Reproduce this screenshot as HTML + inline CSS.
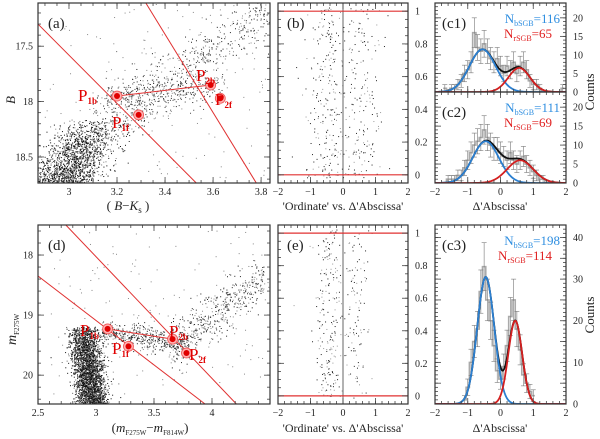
<!DOCTYPE html>
<html><head><meta charset="utf-8"><style>
html,body{margin:0;padding:0;background:#fff;}
svg, svg text{font-family:"Liberation Serif","DejaVu Serif",serif;}
svg{display:block;}
</style></head><body>
<svg id="fig" width="600" height="439" viewBox="0 0 600 439" font-family="Liberation Serif, serif" xmlns="http://www.w3.org/2000/svg"></svg>
<script>
// ---- data ----
const binCentersC1 = [-1.7,-1.6,-1.5,-1.4,-1.3,-1.2,-1.1,-1.0,-0.9,-0.8,-0.7,-0.6,-0.5,-0.4,-0.3,-0.2,-0.1,0.0,0.1,0.2,0.3,0.4,0.5,0.6,0.7,0.8,0.9,1.0,1.1,1.2,1.3,1.4,1.5,1.6,1.7,1.8,1.9];
const countsC1 = [1,0,1,1,2,3,5,6,8,16,12,11,13,11,9,8,9,7,5,7,6,8,5,7,8,6,3,2,2,1,0,0,0,0,0,0,1];
const countsC2 = [0,1,1,1,2,2,4,6,8,10,11,12,14,12,10,9,9,8,7,6,8,6,5,6,7,5,4,3,2,1,1,0,0,0,0,0,0];
const binCentersC3 = [-1.1,-1.0,-0.9,-0.8,-0.7,-0.6,-0.5,-0.4,-0.3,-0.2,-0.1,0.0,0.1,0.2,0.3,0.4,0.5,0.6,0.7,0.8,0.9,1.0];
const countsC3 = [1,4,10,15,18,27,33,25,20,14,8,6,9,14,21,25,18,13,7,5,3,2];
const fitBlue = [[11.5,-0.55,0.40],[11.0,-0.45,0.40],[30.5,-0.45,0.26]];
const fitRed  = [[6.5,0.57,0.33],[6.0,0.60,0.40],[20.0,0.45,0.21]];
const nLabelsBlue = ["116","111","198"];
const nLabelsRed = ["65","69","114"];
const ptsA = {names:["1b","1f","2b","2f"], x:[3.2,3.29,3.59,3.63], y:[17.95,18.12,17.85,17.97]};
const ptsD = {names:["1b","1f","2b","2f"], x:[3.10,3.28,3.66,3.78], y:[19.23,19.52,19.40,19.63]};

const NS="http://www.w3.org/2000/svg";
const svg=document.getElementById('fig');
const FF='Liberation Serif, serif';
function el(tag,attrs,parent){const e=document.createElementNS(NS,tag);for(const k in attrs)e.setAttribute(k,attrs[k]);if(tag==='text')e.setAttribute('font-family',FF);(parent||svg).appendChild(e);return e;}
let seed=12345;function rnd(){seed=(seed*1103515245+12345)%2147483648;return seed/2147483648;}
function gauss(){let u=rnd()||1e-9,v=rnd();return Math.sqrt(-2*Math.log(u))*Math.cos(2*Math.PI*v);}
function scale(d0,d1,p0,p1){return v=>p0+(v-d0)*(p1-p0)/(d1-d0);}

function axes(name,x0,x1,y0,y1,xd,yd,o){
  const g=el('g',{});
  
  
  const sx=scale(xd[0],xd[1],x0,x1), sy=scale(yd[0],yd[1],y0,y1);
  const cl='clip-'+name;
  const cp=el('clipPath',{id:cl},g);el('rect',{x:x0,y:y0,width:x1-x0,height:y1-y0},cp);
  const body=el('g',{'clip-path':'url(#'+cl+')'},g);
  const ax=el('g',{},g);
  function ticks(lo,hi,step,len,isX){
    const n=Math.round((hi-lo)/step);
    for(let i=0;i<=n;i++){const v=lo+i*step;
      if(isX){const p=sx(v);if(p<x0-0.5||p>x1+0.5)continue;
        el('line',{x1:p,x2:p,y1:y1,y2:y1-len,stroke:'#444','stroke-width':0.8},ax);
        el('line',{x1:p,x2:p,y1:y0,y2:y0+len,stroke:'#444','stroke-width':0.8},ax);}
      else{const p=sy(v);if(p<y0-0.5||p>y1+0.5)continue;
        el('line',{y1:p,y2:p,x1:x0,x2:x0+len,stroke:'#444','stroke-width':0.8},ax);
        el('line',{y1:p,y2:p,x1:x1,x2:x1-len,stroke:'#444','stroke-width':0.8},ax);}
    }
  }
  ticks(o.xmin[0],o.xmin[1],o.xmin[2],3,true);
  ticks(o.xmaj[0],o.xmaj[1],o.xmaj[2],6,true);
  ticks(o.ymin[0],o.ymin[1],o.ymin[2],3,false);
  ticks(o.ymaj[0],o.ymaj[1],o.ymaj[2],6,false);
  if(o.xlab){o.xlab.forEach(v=>{const t=el('text',{x:sx(v),y:y1+12,'font-size':10,'text-anchor':'middle',fill:'#222'},ax);t.textContent=(v<0?'−'+(-v):String(v));});}
  if(o.ylab){o.ylab.forEach(v=>{const right=o.yright;const t=el('text',{x:right?x1+7:x0-5,y:sy(v)+3.5,'font-size':10,'text-anchor':right?'start':'end',fill:'#222'},ax);t.textContent=String(v);});}
  el('rect',{x:x0,y:y0,width:x1-x0,height:y1-y0,fill:'none',stroke:'#333','stroke-width':1.2},ax);
  return {g,body,sx,sy,ax};
}
function dot(parent,x,y,c){el('rect',{x:x-0.5,y:y-0.5,width:1,height:1,fill:c},parent);}
function label(txt,x,y,size,parent){const t=el('text',{x:x,y:y,'font-size':size||14,fill:'#222'},parent||svg);t.textContent=txt;return t;}

// ---------- panel a ----------
const A=axes('cmd-panel-a',38,270,3,183,[2.871,3.837],[17.11,18.735],{xmaj:[3,3.8,0.2],xmin:[2.9,3.8,0.05],ymaj:[17.5,18.5,0.5],ymin:[17.2,18.7,0.1],xlab:[3,3.2,3.4,3.6,3.8],ylab:[17.5,18,18.5]});
const scA=el('g',{},A.body);
for(let i=0;i<2000;i++){const m=18.15+Math.pow(rnd(),0.6)*0.7;const x=2.97+(18.75-m)*0.22+gauss()*0.07;dot(scA,A.sx(x),A.sy(m),rnd()<0.3?'#777':'#111');}
for(let i=0;i<750;i++){const x=3.1+rnd()*0.78;const m=18.3-(x-3.1)*1.5+gauss()*0.14;dot(scA,A.sx(x),A.sy(m),rnd()<0.4?'#888':'#222');}
for(let i=0;i<250;i++){const x=3.15+rnd()*0.5;const m=17.97-(x-3.15)*0.2+gauss()*0.08;dot(scA,A.sx(x),A.sy(m),'#444');}
for(let i=0;i<150;i++){dot(scA,A.sx(2.9+rnd()*0.95),A.sy(17.1+rnd()*1.6),'#888');}
const linesA=[[2.871,17.30,3.53,18.735],[3.32,17.11,3.78,18.735]];
function redLines(P,lines,pts,name){
  const g=el('g',{},P.body);
  lines.forEach(l=>el('line',{x1:P.sx(l[0]),y1:P.sy(l[1]),x2:P.sx(l[2]),y2:P.sy(l[3]),stroke:'#e03030','stroke-width':1},g));
  el('line',{x1:P.sx(pts.x[0]),y1:P.sy(pts.y[0]),x2:P.sx(pts.x[2]),y2:P.sy(pts.y[2]),stroke:'#e03030','stroke-width':1},g);
  for(let i=0;i<4;i++){const cx=P.sx(pts.x[i]),cy=P.sy(pts.y[i]);
    const c=el('circle',{cx:cx,cy:cy,r:5,fill:'#ffb0b0',stroke:'#e55','stroke-width':0.8},P.g);
    
    el('circle',{cx:cx,cy:cy,r:3,fill:'#e00000'},P.g);}
}
redLines(A,linesA,ptsA,'selection-lines-a');
function plabel(x,y,sub){const t=el('text',{x:x,y:y,'font-size':17,fill:'#e00000'});
  t.textContent='P';const s=el('tspan',{'font-size':9,dy:3,'font-weight':'bold'},t);s.textContent=sub;}
plabel(78,101,'1b');plabel(112,128,'1f');plabel(196,81,'2b');plabel(215,105,'2f');
label('(a)',48,28,15);
let t=el('text',{x:128,y:210,'font-size':13,'text-anchor':'middle',fill:'#222'});t.innerHTML='( <tspan font-style="italic">B</tspan>−<tspan font-style="italic">K</tspan><tspan font-size="9" dy="3">s</tspan><tspan dy="-3"> )</tspan>';

t=el('text',{x:0,y:0,'font-size':13,'font-style':'italic',fill:'#222',transform:'translate(15,100) rotate(-90)','text-anchor':'middle'});t.textContent='B';


// ---------- panel b/e ----------
const B=axes('ordinate-panel-b',278,408,3,183,[-2,2],[1.05,-0.05],{xmaj:[-2,2,1],xmin:[-2,2,0.2],ymaj:[0,1,0.2],ymin:[0,1,0.05],xlab:[-2,-1,0,1,2],ylab:[0,0.2,0.4,0.6,0.8,1],yright:true});
function fillOrd(P,y0,y1,n,mu1,s1,mu2,s2,frac,name){
  const g=el('g',{},P.body);
  for(let i=0;i<n;i++){const b=rnd()<frac;const x=b?mu1+gauss()*s1:mu2+gauss()*s2;const y=rnd()*1.04-0.02;dot(g,P.sx(x),P.sy(y),rnd()<0.4?'#999':'#222');}
  el('line',{x1:P.sx(0),x2:P.sx(0),y1:y0,y2:y1,stroke:'#555','stroke-width':0.9},P.body);
  el('line',{x1:278,x2:408,y1:P.sy(0),y2:P.sy(0),stroke:'#e03030','stroke-width':1.2},P.body);
  el('line',{x1:278,x2:408,y1:P.sy(1),y2:P.sy(1),stroke:'#e03030','stroke-width':1.2},P.body);
}
fillOrd(B,3,183,420,-0.5,0.35,0.55,0.32,0.62,'stars-b');
label('(b)',287,28,15);
const E=axes('ordinate-panel-e',278,408,225,404,[-2,2],[1.05,-0.05],{xmaj:[-2,2,1],xmin:[-2,2,0.2],ymaj:[0,1,0.2],ymin:[0,1,0.05],xlab:[-2,-1,0,1,2],ylab:[0,0.2,0.4,0.6,0.8,1],yright:true});
fillOrd(E,225,404,310,-0.45,0.22,0.45,0.18,0.63,'stars-e');
label('(e)',287,250,15);
[[343,210],[343,432]].forEach((p,i)=>{const tt=el('text',{x:p[0],y:p[1],'font-size':12,'text-anchor':'middle',fill:'#222'});tt.textContent="'Ordinate' vs. Δ'Abscissa'";});

// ---------- histograms ----------
function gaussv(p,x){return p[0]*Math.exp(-0.5*Math.pow((x-p[1])/p[2],2));}
function hist(name,y0,y1,ymax,centers,counts,bw,fb,fr,nb,nr,lab,showX,majStep){
  const P=axes(name,435,566,y0,y1,[-2,2],[ymax,0],{xmaj:[-2,2,1],xmin:[-2,2,0.2],ymaj:[0,ymax,majStep],ymin:[0,ymax,majStep/5],xlab:showX?[-2,-1,0,1,2]:null,ylab:(function(){const a=[];for(let v=0;v<=ymax-0.01;v+=majStep*(ymax>30?2:1))a.push(v);return a;})(),yright:true});
  const g=el('g',{},P.body);
  let d='';
  centers.forEach((c,i)=>{const xl=P.sx(c-bw/2),xr=P.sx(c+bw/2),y=P.sy(counts[i]);d+=(i?'L':'M')+xl+','+y+'L'+xr+','+y;});
  el('path',{d:d,fill:'none',stroke:'#aaa','stroke-width':1.6},g);
  const eg=el('g',{},P.body);
  centers.forEach((c,i)=>{if(counts[i]<=0)return;const e=Math.sqrt(counts[i]);const x=P.sx(c);const ya=P.sy(counts[i]+e),yb=P.sy(Math.max(0,counts[i]-e));
    el('line',{x1:x,x2:x,y1:ya,y2:yb,stroke:'#777','stroke-width':0.6},eg);
    el('line',{x1:x-2.5,x2:x+2.5,y1:ya,y2:ya,stroke:'#777','stroke-width':0.6},eg);
    el('line',{x1:x-2.5,x2:x+2.5,y1:yb,y2:yb,stroke:'#777','stroke-width':0.6},eg);});
  function curve(f,col,nm){let d='';for(let i=0;i<=200;i++){const x=-2+i*0.02;d+=(i?'L':'M')+P.sx(x).toFixed(2)+','+P.sy(f(x)).toFixed(2);}
    const p=el('path',{d:d,fill:'none',stroke:col,'stroke-width':1.8},P.body);}
  curve(x=>gaussv(fb,x)+gaussv(fr,x),'#111','fit-total-'+name);
  curve(x=>gaussv(fb,x),'#2b7fd0','fit-bsgb-'+name);
  curve(x=>gaussv(fr,x),'#d41f1f','fit-rsgb-'+name);
  label(lab,442,y0+25,15);
  let tt=el('text',{x:560,y:y0+20,'font-size':13,'text-anchor':'end',fill:'#2e8ee0'});tt.innerHTML='N<tspan font-size="8" dy="3">bSGB</tspan><tspan dy="-3">='+nb+'</tspan>';
  
  tt=el('text',{x:552,y:y0+35,'font-size':13,'text-anchor':'end',fill:'#e02020'});tt.innerHTML='N<tspan font-size="8" dy="3">rSGB</tspan><tspan dy="-3">='+nr+'</tspan>';
  
  return P;
}
hist('hist-c1',3,92,24,binCentersC1,countsC1,0.1,fitBlue[0],fitRed[0],nLabelsBlue[0],nLabelsRed[0],'(c1)',false,5);
hist('hist-c2',92,183,24,binCentersC1,countsC2,0.1,fitBlue[1],fitRed[1],nLabelsBlue[1],nLabelsRed[1],'(c2)',true,5);
hist('hist-c3',225,404,43,binCentersC3,countsC3,0.1,fitBlue[2],fitRed[2],nLabelsBlue[2],nLabelsRed[2],'(c3)',true,5);
[[500,210],[500,432]].forEach((p,i)=>{const tt=el('text',{x:p[0],y:p[1],'font-size':12,'text-anchor':'middle',fill:'#222'});tt.textContent="Δ'Abscissa'";});
[[92],[315]].forEach((p,i)=>{const tt=el('text',{x:0,y:0,'font-size':13,'text-anchor':'middle',fill:'#222',transform:'translate(594,'+p[0]+') rotate(-90)'});tt.textContent='Counts';});

// ---------- panel d ----------
const D=axes('cmd-panel-d',38,270,225,404,[2.5,4.5],[17.5,20.48],{xmaj:[2.5,4.5,0.5],xmin:[2.5,4.5,0.1],ymaj:[18,20,1],ymin:[17.6,20.4,0.2],xlab:[2.5,3,3.5,4],ylab:[18,19,20]});
const scD=el('g',{},D.body);
for(let i=0;i<2800;i++){const m=19.2+Math.pow(rnd(),0.8)*1.35;const x=2.9+0.06*(m-19.3)+gauss()*0.065;dot(scD,D.sx(x),D.sy(m),rnd()<0.25?'#666':'#111');}
for(let i=0;i<450;i++){const x=3.05+rnd()*0.75;const m=19.3+(x-3.1)*0.25+gauss()*0.1;dot(scD,D.sx(x),D.sy(m),rnd()<0.3?'#888':'#222');}
for(let i=0;i<500;i++){const x=3.65+rnd()*0.8;const m=19.45-(x-3.7)*1.4+gauss()*0.2;dot(scD,D.sx(x),D.sy(m),rnd()<0.4?'#888':'#222');}
for(let i=0;i<150;i++){dot(scD,D.sx(2.6+rnd()*1.9),D.sy(17.6+rnd()*2.9),'#888');}
redLines(D,[[2.5,18.35,3.94,20.48],[2.74,17.5,4.21,20.48]],ptsD,'selection-lines-d');
plabel(80,336,'1b');plabel(112,354,'1f');plabel(169,337,'2b');plabel(189,360,'2f');
label('(d)',48,250,15);
t=el('text',{x:150,y:432,'font-size':13,'text-anchor':'middle',fill:'#222'});t.innerHTML='(<tspan font-style="italic">m</tspan><tspan font-size="7" dy="3">F275W</tspan><tspan dy="-3">−</tspan><tspan font-style="italic">m</tspan><tspan font-size="7" dy="3">F814W</tspan><tspan dy="-3">)</tspan>';

t=el('text',{x:0,y:0,'font-size':14,fill:'#222',transform:'translate(16,345) rotate(-90)'});t.innerHTML='<tspan font-style="italic">m</tspan><tspan font-size="7" dy="3">F275W</tspan>';

</script>
</body></html>
